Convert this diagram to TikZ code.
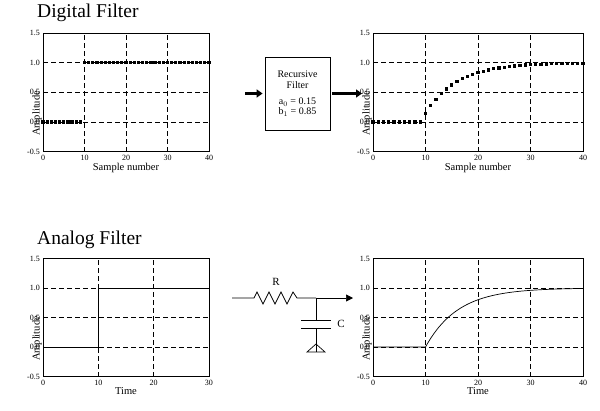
\documentclass[tikz,border=0pt]{standalone}
\usepackage{fontspec}
\setmainfont{Liberation Serif}
\usetikzlibrary{arrows.meta}
\tikzset{
  grd/.style={dashed,dash pattern=on 5pt off 3pt,line width=0.7pt},
  frm/.style={line width=0.8pt},
  tk/.style={font=\fontsize{8}{9}\selectfont,inner sep=1pt},
  axl/.style={font=\fontsize{10.5}{11}\selectfont,inner sep=1pt},
  ttl/.style={font=\fontsize{19.5}{21}\selectfont,anchor=west,inner sep=0pt},
  mk/.style={fill=black,minimum size=3.2pt,inner sep=0pt,draw=none,rectangle},
  bigarrow/.style={-{Triangle[length=6pt,width=8pt]},line width=2.6pt},
}
\newcommand\myaxes[4]{% xmax, ticks, xlabel, grid x
  \foreach \g in {#4} \draw[grd] (\g,-0.5) -- (\g,1.5);
  \foreach \h in {0,0.5,1} \draw[grd] (0,\h) -- (#1,\h);
  \draw[frm] (0,-0.5) rectangle (#1,1.5);
  \foreach \v/\l in {-0.5/-0.5,0/0.0,0.5/0.5,1/1.0,1.5/1.5} \node[tk,anchor=east,xshift=-2pt] at (0,\v) {\l};
  \foreach \g in {#2} \node[tk,anchor=north,yshift=-2pt] at (\g,-0.5) {\g};
  \node[axl,anchor=north,yshift=-10pt] at (#1/2,-0.5) {#3};
  \node[axl,rotate=90,anchor=south,xshift=-21pt] at (0,0.5) {Amplitude};
}
\begin{document}
\begin{tikzpicture}[x=1pt,y=-1pt]
\useasboundingbox (0,0) rectangle (600,410);
\node[ttl] (t1) at (37,13) {Digital Filter};
\node[ttl] (t2) at (37,240) {Analog Filter};
% top-left
\begin{scope}[shift={(43,122)},x=4.15pt,y=59.25pt]
  \myaxes{40}{0,10,20,30,40}{Sample number}{10,20,30}
  \foreach \n in {0,...,9} \node[mk] at (\n,0) {};
  \foreach \n in {10,...,40} \node[mk] at (\n,1) {};
\end{scope}
% top-right
\begin{scope}[shift={(373,122)},x=5.25pt,y=59.25pt]
  \myaxes{40}{0,10,20,30,40}{Sample number}{10,20,30}
  \foreach \n in {0,...,9} \node[mk] at (\n,0) {};
  \foreach \n in {10,...,40} \node[mk] at (\n,{1-0.85^(\n-9)}) {};
\end{scope}
% bottom-left
\begin{scope}[shift={(43,347)},x=5.533pt,y=59pt]
  \myaxes{30}{0,10,20,30}{Time}{10,20}
  \draw[line width=0.9pt] (0,0) -- (10,0) -- (10,1) -- (30,1);
\end{scope}
% bottom-right
\begin{scope}[shift={(373,347)},x=5.25pt,y=59pt]
  \myaxes{40}{0,10,20,30,40}{Time}{10,20,30}
  \draw[line width=0.7pt] (0,0) -- (10,0) -- plot[domain=10:40,samples=60] (\x,{1-exp(-(\x-10)/6.2)});
\end{scope}
% filter box
\node[draw,line width=0.8pt,minimum width=65pt,minimum height=73pt,align=center,inner sep=2pt,
  font=\fontsize{10}{11}\selectfont] (box) at (297.5,93.5)
  {Recursive\\Filter\\[5pt]a$_0$ = 0.15\\[-1pt]b$_1$ = 0.85};
\coordinate (ain) at (245,93.5);
\coordinate (aout) at (362,93.5);
\draw[bigarrow] (ain) -- ([xshift=-2pt]box.west);
\draw[bigarrow] ([xshift=2pt]box.east) -- (aout);
% circuit
\coordinate (c0) at (232,298);
\coordinate (r0) at (254,298);
\coordinate (r1) at (301,298);
\coordinate (jn) at (316,298);
\coordinate (cout) at (353,298);
\coordinate (cp1) at (316,320);
\coordinate (cp2) at (316,328);
\coordinate (gnd) at (316,352);
\draw[line width=0.7pt] (c0) -- (r0) -- ++(3,-6) -- ++(6,12) -- ++(6,-12) -- ++(6,12) -- ++(6,-12) -- ++(6,12) -- ++(6,-12) -- ++(4,6) -- (r1) -- (jn);
\draw[line width=0.7pt,-{Triangle[length=7pt,width=7pt]}] (jn) -- (cout);
\draw[line width=0.7pt] (jn) -- (cp1) (cp2) -- (gnd);
\draw[line width=1pt] ([xshift=-15pt]cp1) -- ([xshift=15pt]cp1) ([xshift=-15pt]cp2) -- ([xshift=15pt]cp2);
\draw[line width=0.7pt] ([xshift=-9pt]gnd) -- ([xshift=9pt]gnd) -- ([yshift=8pt]gnd) -- cycle;
\node[font=\fontsize{11}{12}\selectfont] (rl) at (276,282) {R};
\node[font=\fontsize{11}{12}\selectfont] (cl) at (341,324) {C};
\end{tikzpicture}
\end{document}
